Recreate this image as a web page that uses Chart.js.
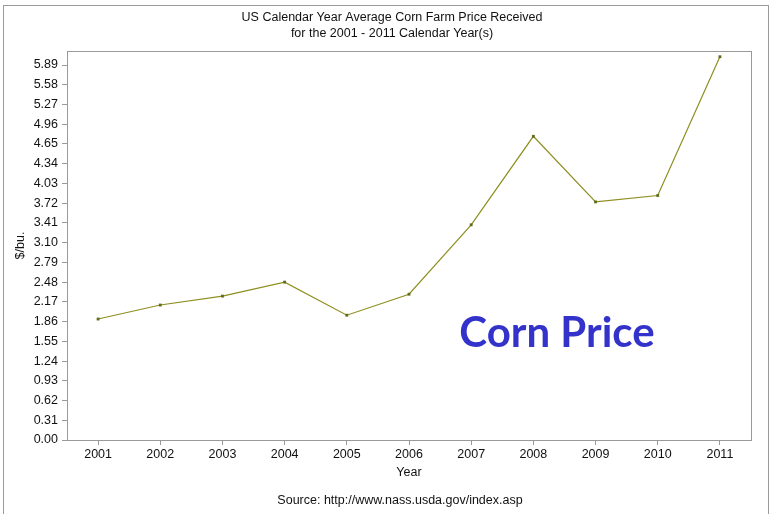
<!DOCTYPE html>
<html>
<head>
<meta charset="utf-8">
<script src="https://cdn.jsdelivr.net/npm/chart.js@4.4.1/dist/chart.umd.min.js"></script>
<style>
  html, body { margin: 0; padding: 0; background: #fff; }
  #wrap { position: relative; width: 776px; height: 514px; }
  #frame { position: absolute; left: 3px; top: 5px; width: 766px; height: 520px; border: 1px solid #9a9a9a; box-sizing: border-box; }
</style>
</head>
<body>
<div id="wrap">
  <div id="frame"></div>
  <canvas id="graf" width="776" height="514"></canvas>
</div>
<script>
const godine = ["2001", "2002", "2003", "2004", "2005", "2006", "2007", "2008", "2009", "2010", "2011"];
const cijene = [1.90, 2.12, 2.26, 2.48, 1.96, 2.29, 3.38, 4.77, 3.74, 3.84, 6.02];
const yOznake = [0.00, 0.31, 0.62, 0.93, 1.24, 1.55, 1.86, 2.17, 2.48, 2.79, 3.10, 3.41, 3.72, 4.03, 4.34, 4.65, 4.96, 5.27, 5.58, 5.89];
const naslov = ["US Calendar Year Average Corn Farm Price Received", "for the 2001 - 2011 Calendar Year(s)"];
const izvor = "Source: http://www.nass.usda.gov/index.asp";
const natpis = "Corn Price";

const font = "'Liberation Sans', Arial, sans-serif";
const siva = "#9a9a9a";

const tekstovi = {
  id: "tekstovi",
  afterDraw(chart) {
    const ctx = chart.ctx;
    const a = chart.chartArea;
    ctx.save();
    // okvir grafa
    ctx.strokeStyle = siva;
    ctx.lineWidth = 1;
    ctx.strokeRect(Math.round(a.left) + 0.5, Math.round(a.top) + 0.5, Math.round(a.right - a.left), Math.round(a.bottom - a.top));
    ctx.fillStyle = "#111";
    ctx.textAlign = "center";
    ctx.textBaseline = "middle";
    ctx.font = "12.5px " + font;
    ctx.fillText(naslov[0], 392, 18);
    ctx.fillText(naslov[1], 392, 34);
    ctx.fillText(izvor, 400, 501);
    ctx.fillStyle = "#3333cc";
    ctx.font = "bold 42px Lato, 'Open Sans', sans-serif";
    ctx.fillText(natpis, 557, 333);
    ctx.restore();
  }
};

const ctx = document.getElementById("graf").getContext("2d");
new Chart(ctx, {
  type: "line",
  data: {
    labels: godine,
    datasets: [{
      data: cijene,
      borderColor: "#8e8e20",
      borderWidth: 1.2,
      pointStyle: "rect",
      pointRadius: 2,
      pointBackgroundColor: "#5f6b1e",
      pointBorderColor: "#5f6b1e",
      pointBorderWidth: 0,
      tension: 0,
      fill: false
    }]
  },
  options: {
    responsive: false,
    animation: false,
    layout: { padding: { left: 0, right: 25, top: 51, bottom: 0 } },
    plugins: { legend: { display: false }, tooltip: { enabled: false } },
    scales: {
      x: {
        offset: true,
        afterFit(s) { s.height = 74; },
        grid: { drawOnChartArea: false, drawTicks: true, tickLength: 5, color: siva },
        border: { color: siva },
        ticks: { color: "#111", font: { family: font, size: 12.5 }, padding: 2, maxRotation: 0 },
        title: { display: true, text: "Year", color: "#111", font: { family: font, size: 12.5 }, padding: { top: 0, bottom: 34 } }
      },
      y: {
        min: 0,
        max: 6.11,
        afterFit(s) { s.width = 67; },
        afterBuildTicks(s) { s.ticks = yOznake.map(v => ({ value: v })); },
        grid: { drawOnChartArea: false, drawTicks: true, tickLength: 5, color: siva },
        border: { color: siva },
        ticks: { color: "#111", font: { family: font, size: 12.5 }, padding: 4, callback: v => v.toFixed(2) },
        title: { display: true, text: "$/bu.", color: "#111", font: { family: font, size: 12.5 }, padding: { top: 13, bottom: 0 } }
      }
    }
  },
  plugins: [tekstovi]
});
</script>
</body>
</html>
